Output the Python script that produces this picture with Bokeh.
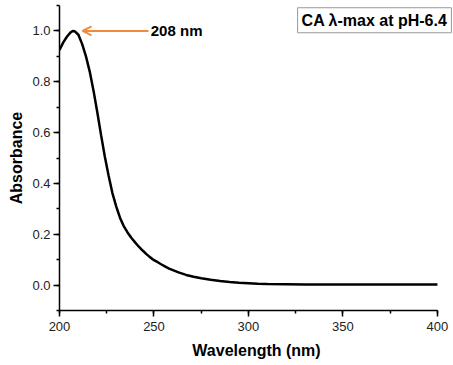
from bokeh.plotting import figure
from bokeh.models import (Range1d, SingleIntervalTicker, Label, Arrow, OpenHead, LinearAxis,
                          NumeralTickFormatter)
from bokeh.embed import file_html
from bokeh.resources import INLINE

wavelength = [200, 202, 204, 206, 207, 208, 210, 212, 214, 216, 218, 220, 222, 224, 226, 228,
              230, 232, 234, 236, 238, 240, 242, 244, 246, 248, 250, 252, 254, 256, 258, 260,
              263, 267, 271, 275, 280, 285, 290, 295, 300, 305, 310, 320, 330, 340, 350, 360,
              370, 380, 390, 400]
absorbance = [0.925, 0.955, 0.978, 0.995, 1.000, 0.999, 0.985, 0.948, 0.900, 0.840, 0.765,
              0.680, 0.590, 0.505, 0.430, 0.362, 0.310, 0.265, 0.232, 0.207, 0.186, 0.168,
              0.151, 0.136, 0.122, 0.109, 0.098, 0.090, 0.081, 0.073, 0.065, 0.059, 0.050,
              0.040, 0.033, 0.027, 0.021, 0.016, 0.012, 0.009, 0.007, 0.005, 0.004, 0.003,
              0.002, 0.002, 0.002, 0.002, 0.002, 0.002, 0.002, 0.002]
peak_label = "208 nm"
box_label = "CA λ-max at pH-6.4"
x_label = "Wavelength (nm)"
y_label = "Absorbance"

FONT = "Liberation Sans"

p = figure(width=453, height=365, output_backend="svg", toolbar_location=None,
           x_range=Range1d(200, 408.5), y_range=Range1d(-0.1, 1.1),
           x_axis_location=None, y_axis_location=None,
           min_border_left=59, min_border_right=0, min_border_top=5, min_border_bottom=55)
p.outline_line_color = None
p.xgrid.visible = False
p.ygrid.visible = False
p.background_fill_color = "white"
p.border_fill_color = "white"

xaxis = LinearAxis(ticker=SingleIntervalTicker(interval=50, num_minor_ticks=2), bounds=(200, 400))
yaxis = LinearAxis(ticker=SingleIntervalTicker(interval=0.2, num_minor_ticks=2), bounds=(-0.1, 1.1),
                   formatter=NumeralTickFormatter(format="0.0"))
for ax in (xaxis, yaxis):
    ax.axis_line_width = 1.5
    ax.axis_line_color = "black"
    ax.major_tick_line_width = 1.5
    ax.minor_tick_line_width = 1.5
    ax.major_tick_line_color = "black"
    ax.minor_tick_line_color = "black"
    ax.major_tick_out = 6
    ax.major_tick_in = 0
    ax.minor_tick_out = 3
    ax.minor_tick_in = 0
    ax.major_label_text_font = FONT
    ax.major_label_text_font_size = "13px"
    ax.major_label_text_color = "#222222"
    ax.axis_label_text_font = FONT
    ax.axis_label_text_font_size = "16px"
    ax.axis_label_text_font_style = "bold"
    ax.axis_label_text_color = "black"
xaxis.axis_label = x_label
xaxis.major_label_standoff = 5
xaxis.axis_label_standoff = 8
yaxis.axis_label = y_label
yaxis.major_label_standoff = 3
yaxis.axis_label_standoff = 4
p.add_layout(xaxis, "below")
p.add_layout(yaxis, "left")

p.line(wavelength, absorbance, line_color="black", line_width=2.5)

p.add_layout(Arrow(x_start=247.1, y_start=1.0, x_end=212.2, y_end=1.0,
                   line_color="#f08a3c", line_width=2,
                   end=OpenHead(size=9, line_color="#f08a3c", line_width=2)))

p.add_layout(Label(x=248.3, y=1.0, text=peak_label, text_font=FONT, text_font_size="15px",
                   text_font_style="bold", text_color="black", text_baseline="middle"))

p.add_layout(Label(x=326.0, y=1.042, text=box_label, text_font=FONT, text_font_size="16px",
                   text_font_style="bold", text_color="black", text_baseline="middle",
                   padding=4, border_line_color="#999999", border_line_width=1,
                   background_fill_color="white"))

open("out.html", "w").write(file_html(p, INLINE))
